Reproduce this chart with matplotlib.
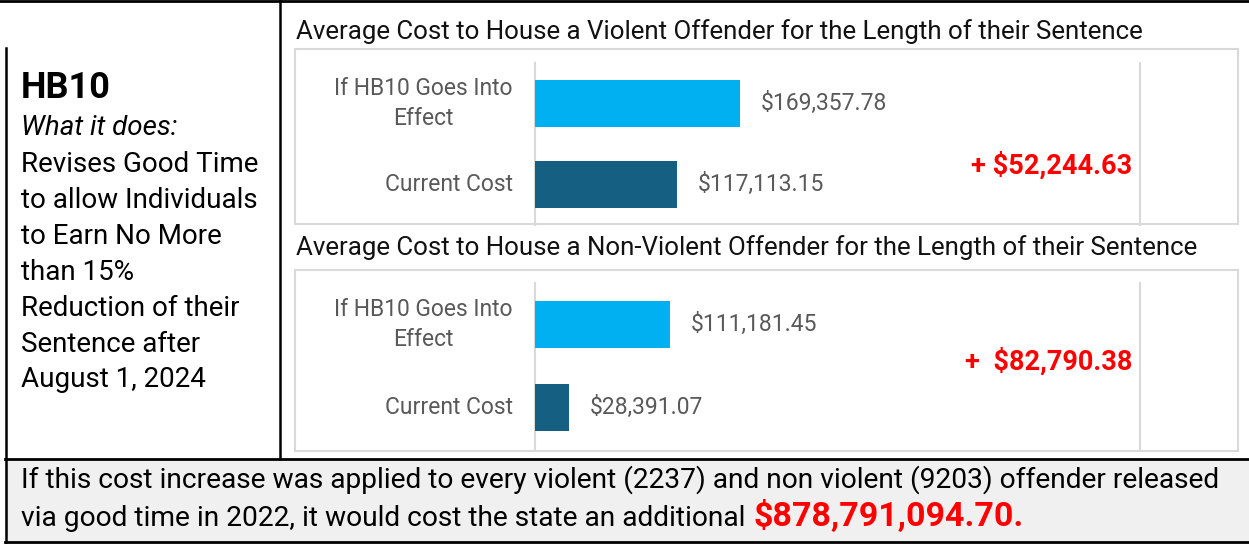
import matplotlib
matplotlib.use("Agg")
import matplotlib.pyplot as plt
from matplotlib.patches import Rectangle
from matplotlib.lines import Line2D
import matplotlib.transforms as mtransforms

plt.rcParams['font.family'] = ['Roboto', 'DejaVu Sans']

# data
categories = ['Current Cost', 'If HB10 Goes Into\nEffect']
violent_cost = [117113.15, 169357.78]
nonviolent_cost = [28391.07, 111181.45]
bar_colors = ['#156082', '#00b0f0']
titles = ['Average Cost to House a Violent Offender for the Length of their Sentence',
          'Average Cost to House a Non-Violent Offender for the Length of their Sentence']
diff_prefix = ['+ ', '+  ']
bill = 'HB10'
bill_lines = ['Revises Good Time', 'to allow Individuals', 'to Earn No More',
              'than 15%', 'Reduction of their', 'Sentence after', 'August 1, 2024']
summary_1 = 'If this cost increase was applied to every violent (2237) and non violent (9203) offender released'
summary_2 = 'via good time in 2022, it would cost the state an additional '
summary_total = '$878,791,094.70.'

W, H = 1249, 544
fig = plt.figure(figsize=(W / 100, H / 100), dpi=100)


def fx(x):
    return x / W


def fy(y):
    return 1 - y / H


def hline(x0, x1, y, **kw):
    fig.add_artist(Line2D([fx(x0), fx(x1)], [fy(y), fy(y)], transform=fig.transFigure, **kw))


def vline(x, y0, y1, **kw):
    fig.add_artist(Line2D([fx(x), fx(x)], [fy(y0), fy(y1)], transform=fig.transFigure, **kw))


# bottom grey box
fig.add_artist(Rectangle((fx(5), fy(542)), fx(1249) - fx(5), (542 - 459) / H,
                         transform=fig.transFigure, facecolor='#f0f0f0',
                         edgecolor='none', zorder=-2))
hline(0, W, 1, color='black', lw=2)
hline(5, W, 459, color='black', lw=2)
hline(5, W, 542, color='black', lw=2)
vline(5.5, 48, 542, color='black', lw=1.8)
vline(280, 0, 459, color='black', lw=1.8)

# left panel
fig.text(fx(21), fy(88), bill, fontsize=26, weight='bold', va='center')
fig.text(fx(21), fy(128), 'What it does:', fontsize=20, style='italic', va='center')
for i, line in enumerate(bill_lines):
    fig.text(fx(21), fy(165 + i * 35.8), line, fontsize=20, va='center')

# charts
frames = [(49, 224), (270, 451)]
plots = [(63, 225), (283, 449)]
title_y = [32, 248]
series = [violent_cost, nonviolent_cost]
diff_y = [0.235, 0.55]

for k in range(2):
    f0, f1 = frames[k]
    fig.add_artist(Rectangle((fx(295), fy(f1)), fx(1238) - fx(295), (f1 - f0) / H,
                             transform=fig.transFigure, facecolor='white',
                             edgecolor='#d9d9d9', lw=1.5, zorder=-1))
    fig.text(fx(296), fy(title_y[k]), titles[k], fontsize=18.6, va='center', color='#111111')

    p0, p1 = plots[k]
    ax = fig.add_axes([fx(535), fy(p1), fx(1140) - fx(535), (p1 - p0) / H])
    ax.patch.set_alpha(0)
    vals = series[k]
    bars = ax.barh(range(len(categories)), vals, height=0.57, color=bar_colors)
    ax.set_xlim(0, 500000)
    ax.set_ylim(-0.5, 1.5)
    ax.set_xticks([0, 500000])
    ax.set_yticks(range(len(categories)))
    ax.set_yticklabels(categories, fontsize=16.5, color='#595959', multialignment='center',
                       linespacing=1.35, va='center')
    ax.grid(axis='x', color='#d9d9d9', lw=1.5)
    ax.set_axisbelow(True)
    for gl in ax.get_xgridlines():
        gl.set_clip_on(False)
    ax.tick_params(axis='x', length=0, labelbottom=False)
    ax.tick_params(axis='y', length=0, pad=16)
    for s in ax.spines.values():
        s.set_visible(False)
    ax.bar_label(bars, labels=['${:,.2f}'.format(v) for v in vals], padding=15,
                 fontsize=16.5, color='#595959')
    diff = vals[1] - vals[0]
    tr = mtransforms.blended_transform_factory(ax.transAxes, ax.transData)
    ax.text(0.988, diff_y[k], diff_prefix[k] + '${:,.2f}'.format(diff), transform=tr,
            ha='right', va='center', fontsize=19.5, weight='bold', color='red')

# summary
fig.text(fx(21), fy(480), summary_1, fontsize=20.25, va='center')
t2 = fig.text(fx(21), fy(519), summary_2, fontsize=20.25, va='center')
fig.canvas.draw()
bb = t2.get_window_extent(renderer=fig.canvas.get_renderer())
fig.text(bb.x1 / W + fx(1), fy(517), summary_total, fontsize=24.5, weight='bold',
         color='red', va='center')

fig.savefig('out.png', dpi=100)
